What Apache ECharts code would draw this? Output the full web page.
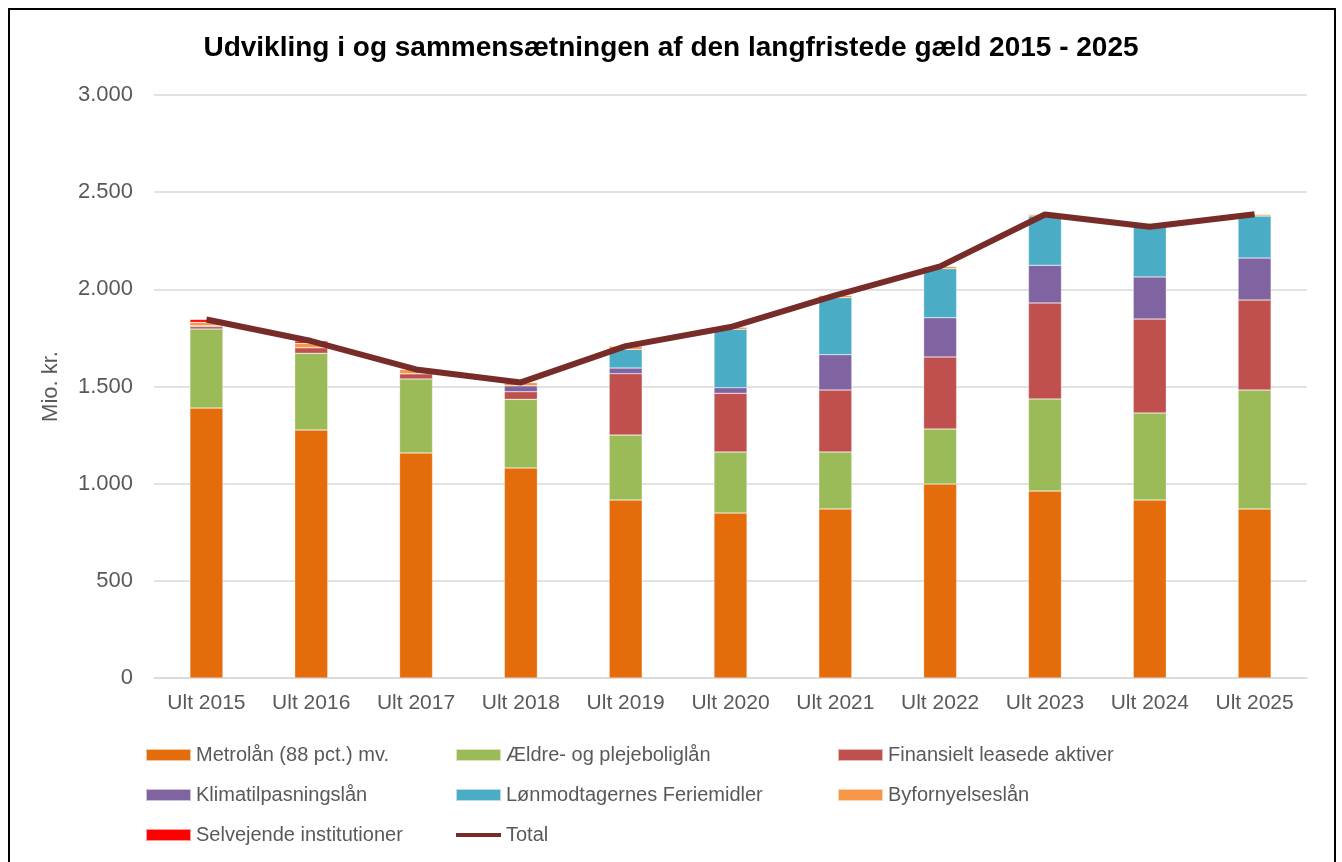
<!DOCTYPE html>
<html>
<head>
<meta charset="utf-8">
<script src="https://cdn.jsdelivr.net/npm/echarts@6/dist/echarts.min.js"></script>
<style>
html,body{margin:0;padding:0;background:#fff;}
#c{width:1342px;height:862px;}
</style>
</head>
<body>
<div id="c"></div>
<script>
const categories = ['Ult 2015','Ult 2016','Ult 2017','Ult 2018','Ult 2019','Ult 2020','Ult 2021','Ult 2022','Ult 2023','Ult 2024','Ult 2025'];
const metrolaan = [1389,1276,1158,1081,916,849,870,998,962,916,870];
const aeldre = [407,395,381,353,334,314,293,283,474,448,612];
const finansielt = [12,29,27,39,316,302,319,371,494,483,463];
const klima = [5,0,0,31,29,29,182,202,194,217,216];
const feriemidler = [0,0,0,0,96,300,293,252,254,258,216];
const byfornyelse = [17,22,22,17,17,12,12,12,9,0,9];
const selvejende = [15,12,0,0,0,0,0,0,0,0,0];
const total = [1845,1734,1588,1521,1708,1806,1969,2118,2385,2322,2386];

const names = {
  metro:'Metrolån (88 pct.) mv.',
  aeldre:'Ældre- og plejeboliglån',
  fin:'Finansielt leasede aktiver',
  klima:'Klimatilpasningslån',
  ferie:'Lønmodtagernes Feriemidler',
  byf:'Byfornyelseslån',
  selv:'Selvejende institutioner',
  total:'Total'
};

const FONT = 'Liberation Sans, Arial, sans-serif';
const chart = echarts.init(document.getElementById('c'));
const fmt = v => String(v).replace(/\B(?=(\d{3})+(?!\d))/g, '.');
function bar(name, data, color){
  return {name, type:'bar', stack:'s', data, barWidth:33,
    itemStyle:{color, borderColor:'rgba(255,255,255,0.6)', borderWidth:0.5}};
}
const legendText = {color:'#595959', fontSize:20, fontFamily:FONT, lineHeight:20};
function legend(left, data){
  return {orient:'vertical', left, top:745, itemWidth:45, itemHeight:12, itemGap:20,
    textStyle:legendText, data, icon:'rect', padding:0};
}
chart.setOption({
  animation:false,
  title:{text:'Udvikling i og sammensætningen af den langfristede gæld 2015 - 2025', left:'center', top:29,
    textStyle:{fontSize:28, fontWeight:'bold', color:'#000', fontFamily:FONT}},
  graphic:[{type:'rect', shape:{x:9,y:9,width:1326,height:900}, style:{fill:'none', stroke:'#000', lineWidth:2}, silent:true}],
  grid:{left:154, right:35, top:95, bottom:184},
  legend:[
    legend(145, [names.metro, names.klima, names.selv]),
    legend(455, [names.aeldre, names.ferie, {name:names.total, icon:'path://M0,0 L45,0 L45,4 L0,4 Z'}]),
    legend(837, [names.fin, names.byf])
  ],
  xAxis:{type:'category', data:categories,
    axisLine:{lineStyle:{color:'#d9d9d9', width:1.5}}, axisTick:{show:false},
    axisLabel:{color:'#595959', fontSize:21, margin:15, interval:0, hideOverlap:false, fontFamily:FONT}},
  yAxis:{type:'value', min:0, max:3000, interval:500,
    name:'Mio. kr.', nameLocation:'middle', nameGap:92, nameRotate:90,
    nameTextStyle:{color:'#595959', fontSize:22, fontFamily:FONT},
    axisLabel:{color:'#595959', fontSize:22, margin:21, formatter:fmt, fontFamily:FONT},
    splitLine:{lineStyle:{color:'#d9d9d9', width:1.5}}, axisLine:{show:false}, axisTick:{show:false}},
  series:[
    bar(names.metro, metrolaan, '#E46C0A'),
    bar(names.aeldre, aeldre, '#9BBB59'),
    bar(names.fin, finansielt, '#C0504D'),
    bar(names.klima, klima, '#8064A2'),
    bar(names.ferie, feriemidler, '#4BACC6'),
    bar(names.byf, byfornyelse, '#F79646'),
    bar(names.selv, selvejende, '#FF0000'),
    {name:names.total, type:'line', data:total, symbol:'none', z:5,
      lineStyle:{color:'#772C2A', width:6}, itemStyle:{color:'#772C2A'}}
  ]
});
</script>
</body>
</html>
